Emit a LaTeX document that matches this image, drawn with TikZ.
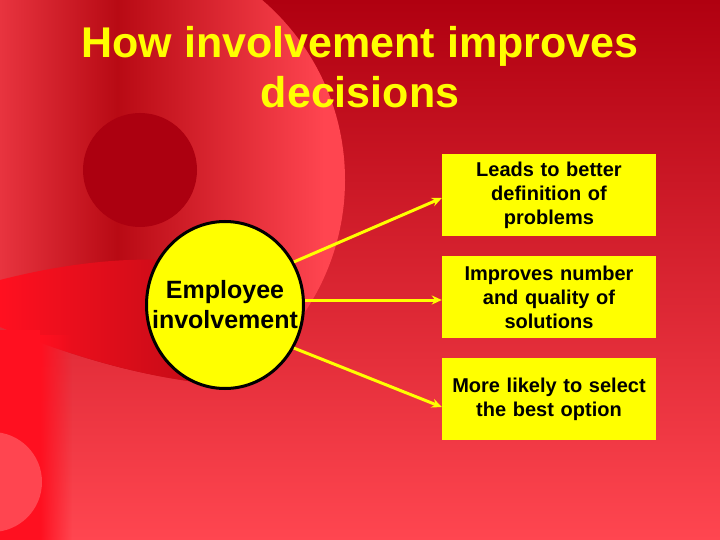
\documentclass[tikz,border=0pt]{standalone}
\usepackage{fontspec}
\setmainfont{Liberation Sans}
\usetikzlibrary{arrows.meta,positioning,shapes.geometric,fadings}

\definecolor{bgtop}{HTML}{B00010}
\definecolor{bgbot}{HTML}{FF4650}
\definecolor{discL}{HTML}{E8343F}
\definecolor{discM}{HTML}{B80A14}
\definecolor{discR}{HTML}{FF4550}
\definecolor{spot}{HTML}{AC0010}
\definecolor{flame}{HTML}{FF1020}
\definecolor{ember}{HTML}{D81422}
\definecolor{sun}{HTML}{FFFF00}

\pgfdeclarehorizontalshading{disc}{100bp}{color(0bp)=(discL); color(25bp)=(discL); color(42bp)=(discM); color(72bp)=(discR); color(100bp)=(discR)}

\begin{document}
\begin{tikzpicture}[x=1pt,y=-1pt,node distance=102pt,on grid,>={Stealth[length=10pt,width=9pt]},
  box/.style={rectangle,fill=sun,minimum width=214pt,minimum height=82pt,text width=206pt,align=center,font=\fontsize{20}{24}\selectfont\bfseries},
  hub/.style={ellipse,draw=black,line width=3pt,fill=sun,minimum width=157pt,minimum height=167pt,inner xsep=-20pt,inner ysep=0pt,align=center,font=\fontsize{25}{30}\selectfont\bfseries},
  link/.style={->,color=sun,line width=3pt}]

  % backdrop
  \useasboundingbox (0,0) rectangle (720,540);
  \shade[top color=bgtop,bottom color=bgbot] (0,0) rectangle (720,540);
  \begin{scope}
    \clip (0,327) .. controls (60,352) and (150,382) .. (240,386) -- (400,386) -- (400,0) -- (0,0) -- cycle;
    \clip (108,180) circle[radius=237pt];
    \shade[shading=disc] (0,0) rectangle (345,540);
  \end{scope}
  \fill[spot] (140,170) circle[radius=57pt];
  \shade[left color=flame,middle color=ember,right color=discM] (0,280) .. controls (70,262) and (160,250) .. (230,270) -- (240,386) .. controls (150,382) and (60,352) .. (0,327) -- cycle;
  \fill[flame] (0,330) rectangle (40,540);
  \fill[flame,path fading=east] (40,335) rectangle (72,540);
  \fill[discR] (-8,482) circle[radius=50pt];

  \node[text=sun,align=center,inner sep=0pt,anchor=north,font=\fontsize{43}{50}\selectfont\bfseries] (title) at (360,26) {How involvement improves\\decisions};

  \node[box] (b1) at (549,195) {Leads to better\\definition of\\problems};
  \node[box] (b2) [below=of b1] {Improves number\\and quality of\\solutions};
  \node[box] (b3) [below=of b2] {More likely to select\\the best option};
  \node[hub,yshift=-8pt] (e) [left=324pt of b2] {Employee\\involvement};

  \path[link]
    (e.32) edge ([yshift=-3pt]b1.west)
    ([yshift=5pt]e.east) edge ([yshift=-3pt]b2.west)
    (e.328) edge ([yshift=-8pt]b3.west)
    ;

\end{tikzpicture}
\end{document}
